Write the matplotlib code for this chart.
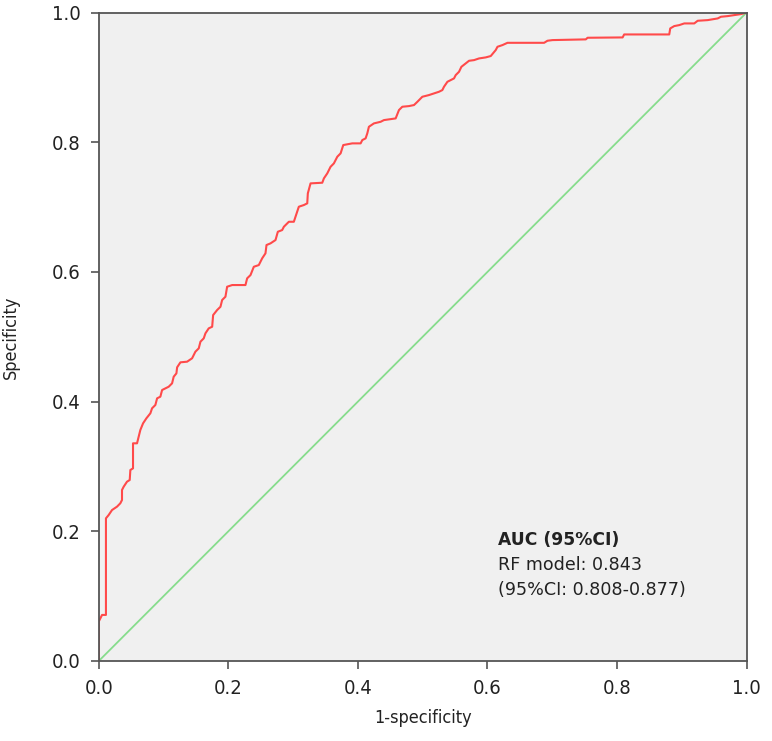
import matplotlib
matplotlib.use("Agg")
import matplotlib.pyplot as plt

# ROC curve (1-specificity, specificity)
fpr = [0.0, 0.0, 0.005, 0.005, 0.011, 0.011, 0.0152, 0.0204, 0.0281, 0.0332, 0.0358,
       0.0358, 0.0384, 0.0435, 0.0477, 0.0487, 0.0528, 0.0528, 0.0528, 0.059, 0.0616,
       0.0641, 0.0683, 0.0734, 0.0796, 0.0822, 0.0873, 0.09, 0.095, 0.0977, 0.1079,
       0.1131, 0.1156, 0.1198, 0.1209, 0.126, 0.1363, 0.144, 0.1491, 0.1543, 0.1569,
       0.162, 0.1646, 0.1697, 0.175, 0.1765, 0.1827, 0.1878, 0.1904, 0.1955, 0.1981,
       0.2059, 0.2264, 0.229, 0.2342, 0.2393, 0.247, 0.2522, 0.2573, 0.2589, 0.2651,
       0.2728, 0.2764, 0.2831, 0.2857, 0.2934, 0.3011, 0.3037, 0.3088, 0.3166, 0.3218,
       0.3227, 0.3269, 0.345, 0.3475, 0.3527, 0.3578, 0.3629, 0.3682, 0.3733, 0.3774,
       0.3913, 0.4042, 0.4068, 0.4119, 0.4145, 0.417, 0.4247, 0.4351, 0.4402, 0.4583,
       0.4634, 0.4686, 0.4788, 0.4866, 0.4918, 0.4995, 0.5097, 0.5175, 0.5252, 0.5304,
       0.5329, 0.5382, 0.5433, 0.5484, 0.551, 0.5561, 0.5598, 0.5665, 0.5716, 0.5793,
       0.587, 0.5974, 0.6051, 0.6128, 0.6155, 0.6232, 0.6309, 0.6875, 0.6927, 0.7005,
       0.7519, 0.7546, 0.8087, 0.8111, 0.8807, 0.8822, 0.8884, 0.8961, 0.9039, 0.9193,
       0.9246, 0.94, 0.9555, 0.9606, 0.9709, 0.9812, 0.9915, 1.0]
tpr = [0.0, 0.061, 0.071, 0.071, 0.071, 0.22, 0.2251, 0.2328, 0.238, 0.2432, 0.2483,
       0.2637, 0.2688, 0.2765, 0.2791, 0.2945, 0.2971, 0.3177, 0.3357, 0.3357, 0.3459,
       0.3562, 0.3665, 0.3742, 0.382, 0.3897, 0.3948, 0.4051, 0.4076, 0.4179, 0.423,
       0.4282, 0.4384, 0.4436, 0.4529, 0.4606, 0.4616, 0.4668, 0.477, 0.4822, 0.4924,
       0.4976, 0.5053, 0.513, 0.5155, 0.5335, 0.5413, 0.5463, 0.5567, 0.5618, 0.5772,
       0.5798, 0.5798, 0.5901, 0.5952, 0.608, 0.6106, 0.621, 0.6287, 0.6415, 0.6441,
       0.6492, 0.662, 0.6646, 0.6697, 0.6774, 0.6774, 0.6851, 0.7006, 0.7032, 0.7058,
       0.7212, 0.7366, 0.7376, 0.7443, 0.752, 0.7622, 0.7674, 0.7777, 0.7829, 0.7957,
       0.7983, 0.7983, 0.8034, 0.806, 0.8137, 0.8239, 0.8291, 0.8316, 0.8342, 0.8368,
       0.8497, 0.8548, 0.8558, 0.8574, 0.8624, 0.8702, 0.8728, 0.8754, 0.8779, 0.8805,
       0.8856, 0.8933, 0.8959, 0.8985, 0.9036, 0.9087, 0.9164, 0.9216, 0.9257, 0.9267,
       0.9293, 0.9309, 0.933, 0.9422, 0.9473, 0.9499, 0.9534, 0.9534, 0.9566, 0.9576,
       0.9587, 0.9612, 0.9617, 0.9663, 0.9663, 0.9756, 0.9792, 0.9807, 0.9833, 0.9833,
       0.9874, 0.9884, 0.991, 0.9936, 0.9946, 0.9961, 0.9977, 1.0]

ref_line = [0.0, 1.0]
ticks = [0.0, 0.2, 0.4, 0.6, 0.8, 1.0]
tick_labels = ["0.0", "0.2", "0.4", "0.6", "0.8", "1.0"]
legend_lines = ["AUC (95%CI)", "RF model: 0.843", "(95%CI: 0.808-0.877)"]

fig = plt.figure(figsize=(7.72, 7.41), dpi=100)
ax = fig.add_axes([0.128, 0.108, 0.839, 0.875])
ax.set_facecolor("#f0f0f0")

ax.plot(ref_line, ref_line, color="#86dc8c", lw=1.3)
ax.plot(fpr, tpr, color="#ff4a4a", lw=1.5)

ax.set_xlim(0, 1)
ax.set_ylim(0, 1)
ax.set_xticks(ticks)
ax.set_yticks(ticks)
ax.set_xticklabels(tick_labels, fontsize=14.5, fontstretch="condensed", color="#222222")
ax.set_yticklabels(tick_labels, fontsize=14.5, fontstretch="condensed", color="#222222")
ax.tick_params(direction="out", length=6, width=1.2, color="#555555", pad=7)
for s in ax.spines.values():
    s.set_color("#555555")
    s.set_linewidth(1.3)

ax.set_xlabel("1-specificity", fontsize=13, fontstretch="condensed", color="#222222",
              labelpad=8)
ax.set_ylabel("Specificity", fontsize=13, fontstretch="condensed", color="#222222",
              labelpad=23)

# AUC annotation
ax.text(0.617, 0.187, legend_lines[0], fontsize=12.3, fontweight="bold",
        color="#222222", va="center")
ax.text(0.617, 0.148, legend_lines[1], fontsize=12.6, color="#222222", va="center")
ax.text(0.617, 0.109, legend_lines[2], fontsize=12.6, color="#222222", va="center")

fig.savefig("out.png", dpi=100)
